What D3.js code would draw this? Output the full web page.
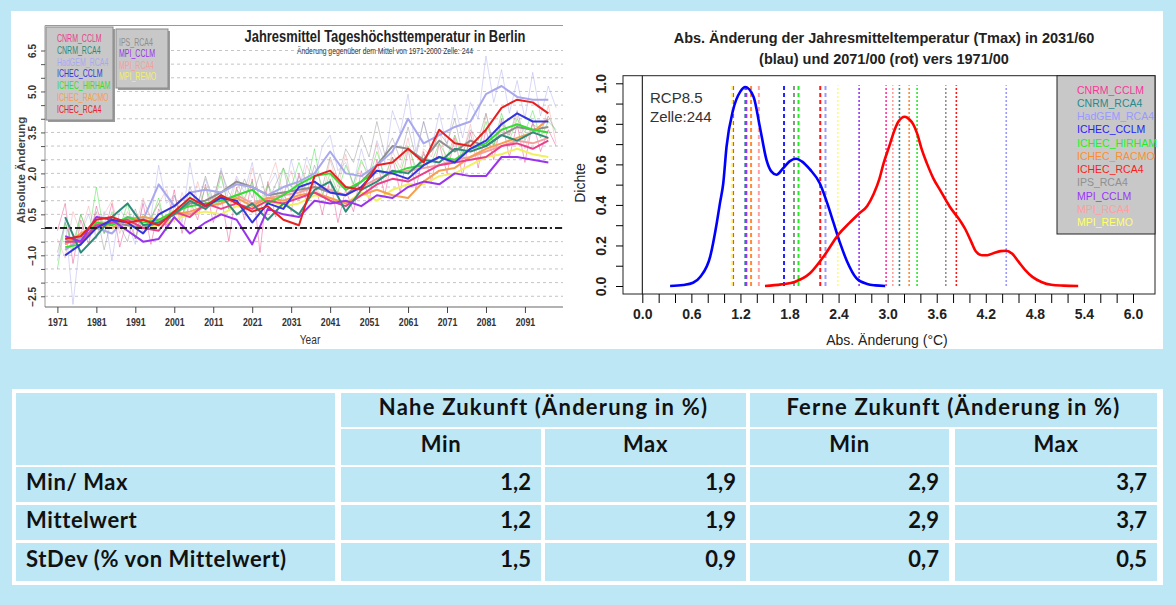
<!DOCTYPE html>
<html>
<head>
<meta charset="utf-8">
<script src="https://cdn.jsdelivr.net/npm/d3@7"></script>
<style>
  body { margin: 0; background: #bee7f5; }
  text { font-family: "Liberation Sans", Arial, sans-serif; }
  .tbl { font-family: Lato, "Open Sans", sans-serif; font-weight: 700; }
</style>
</head>
<body>
<div id="chart"></div>
<script>

// ---- models ----
var modelNames = ["CNRM_CCLM", "CNRM_RCA4", "HadGEM_RCA4", "ICHEC_CCLM", "ICHEC_HIRHAM",
                  "ICHEC_RACMO", "ICHEC_RCA4", "IPS_RCA4", "MPI_CCLM", "MPI_RCA4", "MPI_REMO"];
var leftColors  = ["#e8408a", "#2e8b7a", "#a8a8ee", "#3535e0", "#33dd33",
                   "#f5a050", "#e82020", "#8f8f8f", "#9933ee", "#f4a0a0", "#f0f060"];
var rightColors = ["#ff3399", "#2a8a8a", "#9999ff", "#2222ff", "#22ee22",
                   "#ff8c33", "#ff1a1a", "#909090", "#9933ff", "#ff9f9f", "#ffff66"];

// ---- left chart: smoothed series, years 1973..2097 every 4 years ----
var smoothYears = d3.range(1973, 2098, 4);
var cnrmCclm  = [-0.5,-0.5,0.1,0.2,0.3,0.0,-0.1,0.6,0.4,0.9,0.7,0.9,0.7,1.0,0.9,1.1,1.3,1.0,0.8,1.2,1.6,1.8,1.7,2.0,2.3,2.4,2.5,2.6,3.0,3.1,2.9,3.2];
var cnrmRca4  = [0.4,-0.9,-0.3,0.4,0.9,0.1,0.2,0.5,1.0,0.7,1.2,0.5,0.9,0.3,0.9,0.5,1.4,1.7,0.6,1.4,1.7,2.1,2.0,2.5,2.4,2.9,2.8,3.0,3.4,3.2,3.5,3.3];
var hadgemRca4 = [-0.8,-0.4,0.0,-0.2,0.4,0.3,1.6,0.8,1.3,1.4,1.3,1.6,1.5,1.2,1.5,1.7,2.0,2.8,2.0,1.9,2.3,2.8,4.0,3.1,3.4,3.7,3.9,4.9,5.2,4.8,4.7,4.7];
var ichecCclm = [-1.0,-0.6,0.0,0.3,0.2,-0.2,0.5,0.8,1.3,0.8,1.1,1.0,0.2,0.9,0.7,1.5,1.7,1.3,1.2,1.5,2.1,2.0,1.8,2.3,2.6,2.4,2.9,3.2,3.8,4.2,3.9,3.9];
var ichecHirham = [-0.7,-0.6,0.2,0.1,0.4,0.2,0.3,0.6,0.8,0.9,1.0,1.2,1.4,0.9,1.2,1.6,1.9,2.0,1.4,1.7,2.1,2.0,2.2,2.3,2.6,2.5,2.9,3.1,3.6,3.8,3.6,3.5];
var ichecRacmo = [-0.6,-0.2,0.1,0.0,0.3,0.4,0.3,0.5,0.6,0.8,0.9,1.1,0.8,1.1,1.0,1.2,1.3,1.1,0.9,1.2,1.4,1.2,1.1,1.7,2.1,2.2,2.6,2.9,3.1,3.3,3.5,4.0];
var ichecRca4 = [-0.4,-0.3,0.3,0.4,0.2,0.3,0.1,0.6,1.1,0.8,1.2,0.9,0.6,0.8,0.3,0.1,1.9,2.1,1.5,1.4,2.3,2.4,2.9,2.4,3.6,3.1,3.0,3.6,4.4,4.7,4.6,4.2];
var ipsRca4   = [-0.5,-0.4,0.0,0.2,0.1,0.0,0.2,0.5,0.9,1.0,1.3,1.7,1.5,1.2,1.3,1.4,1.5,1.3,1.2,1.7,2.3,3.0,2.9,2.5,3.2,2.8,3.2,3.0,3.4,3.7,3.6,3.7];
var mpiCclm   = [-0.3,-0.5,0.4,0.3,-0.1,-0.5,-0.4,0.4,-0.2,0.2,0.5,0.3,-0.6,0.7,0.5,0.4,1.0,0.9,1.0,0.8,1.2,1.1,1.5,1.7,1.6,2.0,1.9,1.9,2.6,2.6,2.5,2.4];
var mpiRca4   = [-0.6,-0.3,0.2,0.2,0.1,0.3,0.2,0.6,0.5,0.8,0.9,1.2,0.9,1.1,1.2,1.3,1.5,1.4,1.2,1.5,1.8,2.0,2.1,2.2,2.3,2.5,2.6,2.8,3.0,3.2,3.1,3.3];
var mpiRemo   = [-0.8,-0.4,0.0,0.2,0.1,0.0,0.1,0.3,0.5,0.6,0.5,0.8,0.7,1.0,0.8,0.9,1.2,1.1,0.9,1.3,1.0,1.4,1.6,1.6,1.9,2.0,2.3,2.6,2.7,2.9,2.7,2.6];
var smoothSeries = [cnrmCclm, cnrmRca4, hadgemRca4, ichecCclm, ichecHirham, ichecRacmo,
                    ichecRca4, ipsRca4, mpiCclm, mpiRca4, mpiRemo];
var drawOrder = [10, 9, 7, 2, 5, 4, 0, 1, 8, 3, 6];

// ---- left chart: faint yearly values, 1971..2099 every 2 years ----
var rawYears = d3.range(1971, 2100, 2);
var hadgemRaw = [-1.2,0.3,-2.8,-0.2,0.5, -0.4,0.6,-1.2,0.7,0.2, -0.6,1.0,0.4,2.3,0.9, 1.2,0.2,2.4,0.9,1.8, 0.8,2.2,1.0,1.9,1.3,
                 2.4,0.9,1.5,2.0,1.0, 2.5,1.4,2.6,1.8,3.0, 3.4,2.1,2.4,1.6,2.9, 1.9,3.2,2.4,4.3,3.5, 4.9,2.8,3.9,2.9,4.2,
                 3.0,4.5,3.3,4.6,4.0, 6.3,4.6,5.8,4.2,5.4, 4.0,5.7,4.1,5.2,4.4];
var cnrmCclmRaw = [-0.1,0.9,-1.3,0.3,-0.6, 0.8,-0.2,0.9,-0.7,0.4, -0.4,0.9,-0.6,0.7,0.1, 1.4,-0.2,1.0,0.3,1.6, 0.2,1.2,-0.5,1.5,0.3,
                   1.8,-0.9,1.7,0.4,1.3, 0.6,2.0,0.9,1.7,0.5, 1.8,0.2,1.4,0.6,2.1, 1.0,2.5,1.2,2.6,1.3, 2.9,1.4,2.8,1.7,3.1,
                   2.0,3.3,1.9,3.5,2.2, 3.6,2.5,4.0,2.6,3.8, 2.4,3.9,2.8,3.6,3.0];
var mpiRca4Raw = [-0.4,-1.1,0.6,-0.2,0.8, -0.3,0.5,1.0,-0.2,0.6, 0.0,1.1,0.3,0.9,1.4, 0.2,1.3,0.5,1.7,0.6, 1.1,2.0,0.7,1.8,0.9,
                  2.2,1.0,1.6,2.4,1.2, 2.1,1.0,2.3,1.6,1.1, 2.5,1.5,2.7,1.4,2.4, 2.0,3.1,1.6,2.8,2.2, 3.3,1.9,2.9,2.6,3.6,
                  2.3,3.4,2.7,3.8,2.5, 4.2,2.9,3.6,3.4,4.1, 2.9,3.8,3.3,4.5,3.1];
var ipsRca4Raw = [-0.9,0.2,-0.6,0.5,-0.3, 0.6,-0.8,0.4,0.1,-0.5, 0.7,-0.2,0.4,0.9,0.0, 1.2,0.4,1.5,0.8,1.9, 1.0,2.1,1.3,0.9,1.8,
                  1.1,2.0,0.9,1.6,2.2, 1.0,1.9,1.3,2.3,1.5, 2.6,1.8,2.9,2.4,3.4, 2.6,3.9,2.7,3.3,2.5, 3.7,2.6,3.9,2.8,3.5,
                  3.1,4.0,2.7,3.6,3.2, 4.2,3.0,3.9,3.4,4.3, 3.2,3.8,3.6,4.1,3.5];
var ichecHirhamRaw = [-1.5,0.2,-0.8,0.5,-0.3, 1.5,-0.2,0.6,0.0,0.9, -0.4,0.5,0.3,1.1,-0.1, 0.8,0.4,1.2,0.6,1.5, 0.8,1.9,0.7,1.4,1.1,
                      1.7,0.6,1.6,1.0,2.2, 1.5,2.4,1.6,2.9,1.2, 2.0,1.3,2.3,1.6,2.5, 1.8,2.8,1.9,2.6,2.0, 3.0,2.2,2.7,2.4,3.1,
                      2.6,3.4,2.5,3.2,2.9, 3.9,3.0,4.2,3.2,4.0, 3.5,4.3,3.3,3.9,3.6];
var rawSeries = [[hadgemRaw, 2], [cnrmCclmRaw, 0], [mpiRca4Raw, 9], [ipsRca4Raw, 7], [ichecHirhamRaw, 4]];

var leftYearTicks = d3.range(1971, 2092, 10);
var leftValueTicks = d3.range(-2.5, 6.51, 0.5);
var leftValueLabels = [6.5, 5.0, 3.5, 2.0, 0.5, -1.0, -2.5];

// ---- right chart: kernel densities ----
var blueX = [0.34,0.5,0.62,0.71,0.83,0.91,0.95,0.99,1.03,1.11,1.2,1.26,1.36,1.44,1.52,1.58,1.64,1.72,1.8,1.88,1.95,2.05,2.17,2.26,2.34,2.42,2.5,2.62,2.75,2.85,2.97];
var blueD = [0,0.005,0.016,0.046,0.145,0.31,0.41,0.507,0.687,0.868,0.96,0.982,0.934,0.78,0.62,0.564,0.549,0.58,0.615,0.628,0.615,0.575,0.507,0.41,0.31,0.21,0.125,0.038,0.01,0.003,0];
var redX = [1.5,1.7,1.87,2.05,2.23,2.4,2.53,2.65,2.75,2.83,2.9,2.95,3.02,3.07,3.13,3.21,3.27,3.31,3.36,3.42,3.48,3.56,3.64,3.76,3.89,3.95,4.02,4.08,4.15,4.22,4.3,4.38,4.45,4.52,4.6,4.68,4.77,4.88,5.0,5.15,5.33];
var redD = [0,0.008,0.021,0.0625,0.153,0.255,0.31,0.357,0.395,0.455,0.53,0.605,0.69,0.753,0.81,0.835,0.82,0.8,0.753,0.67,0.605,0.53,0.474,0.391,0.32,0.28,0.22,0.17,0.152,0.152,0.163,0.172,0.174,0.16,0.12,0.08,0.045,0.02,0.006,0.002,0];
// per-model mean change: near future (2031/60) and far future (2071/00)
var nearFuture = [1.11, 1.26, 2.24, 1.733, 1.91, 1.33, 2.176, 1.855, 1.272, 1.425, 1.095];
var farFuture  = [2.981, 3.144, 4.45, null, 3.36, 3.263, 3.84, 3.711, 2.651, 3.063, 2.39];

// ---- table ----
var rowLabels = ["Min/ Max", "Mittelwert", "StDev (% von Mittelwert)"];
var nearMin = [1.2, 1.2, 1.5];
var nearMax = [1.9, 1.9, 0.9];
var farMin  = [2.9, 2.9, 0.7];
var farMax  = [3.7, 3.7, 0.5];

var width = 1176, height = 605;
var svg = d3.select("#chart").append("svg").attr("width", width).attr("height", height);
svg.append("rect").attr("width", width).attr("height", height).attr("fill", "#bee7f5");
svg.append("rect").attr("x", 11).attr("y", 11).attr("width", 1152).attr("height", 338).attr("fill", "#fff");

// condensed text: regular font squeezed horizontally
function narrow(g, x, y, txt, size, sx) {
  return g.append("text")
    .attr("transform", "translate(" + x + "," + y + ") scale(" + sx + ",1)")
    .attr("font-size", size).text(txt);
}

// ================= left chart =================
var xL = d3.scaleLinear().domain([1971, 2100]).range([57.4, 560]);
var yL = d3.scaleLinear().domain([0, 6.5]).range([228, 50.5]);
var gL = svg.append("g");

gL.selectAll("line.grid").data(leftValueTicks).enter().append("line")
    .attr("x1", 45).attr("x2", 563)
    .attr("y1", function(d) { return yL(d); }).attr("y2", function(d) { return yL(d); })
    .attr("stroke", "#c4c4c4").attr("stroke-dasharray", "3,3");

gL.append("path").attr("d", "M45,307V25.5H563").attr("fill", "none").attr("stroke", "#999");
gL.append("line").attr("x1", 45).attr("x2", 563).attr("y1", 307).attr("y2", 307).attr("stroke", "#666");

var lineL = d3.line()
    .x(function(d) { return xL(d[0]); })
    .y(function(d) { return yL(d[1]); });

rawSeries.forEach(function(r) {
  gL.append("path")
    .attr("d", lineL(r[0].map(function(v, i) { return [rawYears[i], v]; })))
    .attr("fill", "none").attr("stroke", leftColors[r[1]])
    .attr("stroke-width", 1).attr("opacity", 0.45);
});

drawOrder.forEach(function(k) {
  gL.append("path")
    .attr("d", lineL(smoothSeries[k].map(function(v, i) { return [smoothYears[i], v]; })))
    .attr("fill", "none").attr("stroke", leftColors[k])
    .attr("stroke-width", 2).attr("stroke-linejoin", "round");
});

gL.append("line").attr("x1", 45).attr("x2", 563).attr("y1", yL(0)).attr("y2", yL(0))
    .attr("stroke", "#222").attr("stroke-width", 2).attr("stroke-dasharray", "7,3,2,3");

var axLx = gL.append("g").attr("transform", "translate(0,307)")
    .call(d3.axisBottom(xL).tickValues(leftYearTicks).tickSize(6).tickPadding(5).tickFormat(d3.format("d")));
axLx.select(".domain").remove();
axLx.selectAll("line").attr("stroke", "#444");
axLx.selectAll("text").attr("transform", "scale(0.8,1)")
    .attr("font-size", 11).attr("font-weight", "bold").attr("fill", "#333");

var axLy = gL.append("g").attr("transform", "translate(45,0)")
    .call(d3.axisLeft(yL).tickValues(leftValueTicks).tickSize(4)
      .tickFormat(function(d) { return leftValueLabels.indexOf(d) >= 0 ? d3.format(".1f")(d) : ""; }));
axLy.select(".domain").remove();
axLy.selectAll("line").attr("stroke", "#555");
axLy.selectAll("text").attr("x", 0).attr("dy", null).attr("text-anchor", "middle")
    .attr("transform", "translate(-9,0) rotate(-90)")
    .attr("font-size", 10).attr("font-weight", "bold").attr("fill", "#333");

narrow(gL, 385, 42, "Jahresmittel Tageshöchsttemperatur in Berlin", 17, 0.76)
    .attr("text-anchor", "middle").attr("font-weight", "bold").attr("fill", "#222");
narrow(gL, 385, 54, "Änderung gegenüber dem Mittel von 1971-2000  Zelle: 244", 8.5, 0.8)
    .attr("text-anchor", "middle").attr("fill", "#333");
narrow(gL, 310, 344, "Year", 12, 0.85).attr("text-anchor", "middle").attr("fill", "#333");
gL.append("text").attr("text-anchor", "middle").attr("transform", "translate(25,170) rotate(-90)")
    .attr("font-size", 11.5).attr("font-weight", "bold").attr("fill", "#444").text("Absolute Änderung");

// legends (two boxes)
var legBoxes = [
  { x: 46, y: 27, w: 67, h: 93, from: 0, to: 7, tx: 57, ty: 42, step: 11.8 },
  { x: 116, y: 29, w: 52, h: 59, from: 7, to: 11, tx: 119, ty: 46, step: 11.4 }
];
legBoxes.forEach(function(b) {
  gL.append("rect").attr("x", b.x + 2).attr("y", b.y + 2).attr("width", b.w).attr("height", b.h).attr("fill", "#9a9a9a");
  gL.append("rect").attr("x", b.x).attr("y", b.y).attr("width", b.w).attr("height", b.h)
      .attr("fill", "#c8c8c8").attr("stroke", "#8a8a8a");
  d3.range(b.from, b.to).forEach(function(k, i) {
    narrow(gL, b.tx, b.ty + i * b.step, modelNames[k], 10, 0.7).attr("fill", leftColors[k]);
  });
});

// ================= right chart =================
var xR = d3.scaleLinear().domain([0, 6]).range([642.3, 1133]);
var yR = d3.scaleLinear().domain([0, 1]).range([286, 83.3]);
var gR = svg.append("g");

gR.append("line").attr("x1", xR(0)).attr("x2", xR(0)).attr("y1", 75.7).attr("y2", 294).attr("stroke", "#000");

function vLines(vals, dash, w) {
  vals.forEach(function(v, k) {
    if (v === null) return;
    gR.append("line").attr("x1", xR(v)).attr("x2", xR(v)).attr("y1", yR(0)).attr("y2", yR(0.99))
      .attr("stroke", rightColors[k]).attr("stroke-width", w).attr("stroke-dasharray", dash);
  });
}
vLines(nearFuture, "4,3", 2);
vLines(farFuture, "2,2", 1.6);

var lineR = d3.line()
    .x(function(d) { return xR(d[0]); })
    .y(function(d) { return yR(d[1]); })
    .curve(d3.curveMonotoneX);
gR.append("path").attr("d", lineR(blueX.map(function(x, i) { return [x, blueD[i]]; })))
    .attr("fill", "none").attr("stroke", "#0000ff").attr("stroke-width", 2.6);
gR.append("path").attr("d", lineR(redX.map(function(x, i) { return [x, redD[i]]; })))
    .attr("fill", "none").attr("stroke", "#ff0000").attr("stroke-width", 2.6);

gR.append("rect").attr("x", 623).attr("y", 75.7).attr("width", 532).attr("height", 218.3)
    .attr("fill", "none").attr("stroke", "#222");

var axRx = gR.append("g").attr("transform", "translate(0,294)")
    .call(d3.axisBottom(xR).tickValues(d3.range(0, 31).map(function(i) { return i * 0.2; }))
      .tickSize(9).tickPadding(6)
      .tickFormat(function(d, i) { return i % 3 === 0 ? d3.format(".1f")(d) : ""; }));
axRx.select(".domain").remove();
axRx.selectAll("text").attr("font-size", 14).attr("font-weight", "bold").attr("fill", "#222");

var axRy = gR.append("g").attr("transform", "translate(623,0)")
    .call(d3.axisLeft(yR).tickValues(d3.range(0, 11).map(function(i) { return i / 10; }))
      .tickSize(7)
      .tickFormat(function(d, i) { return i % 2 === 0 ? d3.format(".1f")(d) : ""; }));
axRy.select(".domain").remove();
axRy.selectAll("text").attr("x", 0).attr("dy", null).attr("text-anchor", "middle")
    .attr("transform", "translate(-17,0) rotate(-90)")
    .attr("font-size", 14).attr("font-weight", "bold").attr("fill", "#222");

gR.append("text").attr("x", 884).attr("y", 43).attr("text-anchor", "middle")
    .attr("font-size", 14.5).attr("font-weight", "bold").attr("fill", "#222")
    .text("Abs. Änderung der Jahresmitteltemperatur (Tmax) in 2031/60");
gR.append("text").attr("x", 884).attr("y", 64).attr("text-anchor", "middle")
    .attr("font-size", 14.5).attr("font-weight", "bold").attr("fill", "#222")
    .text("(blau) und 2071/00 (rot) vers 1971/00");
gR.append("text").attr("x", 887).attr("y", 345).attr("text-anchor", "middle")
    .attr("font-size", 14).attr("fill", "#222").text("Abs. Änderung (°C)");
gR.append("text").attr("text-anchor", "middle").attr("transform", "translate(585,183) rotate(-90)")
    .attr("font-size", 14).attr("fill", "#222").text("Dichte");
gR.append("text").attr("x", 650).attr("y", 103).attr("font-size", 15).attr("fill", "#333").text("RCP8.5");
gR.append("text").attr("x", 650).attr("y", 122).attr("font-size", 15).attr("fill", "#333").text("Zelle:244");

gR.append("rect").attr("x", 1057).attr("y", 75.7).attr("width", 98).attr("height", 158.3)
    .attr("fill", "#c8c8c8").attr("stroke", "#222");
modelNames.forEach(function(n, k) {
  gR.append("text").attr("x", 1077).attr("y", 93.5 + k * 13.25)
      .attr("font-size", 10.5).attr("fill", rightColors[k]).text(n);
});

// ================= table =================
var colX = [16, 341, 545, 750, 955];
var colW = [319, 200, 201, 199, 202];
var rowY = [393, 429, 467, 505, 543];
var rowH = [34, 36, 35, 35, 38];
var cellFill = "#bee7f5";
var gT = svg.append("g");
gT.append("rect").attr("x", 12).attr("y", 389).attr("width", 1151).attr("height", 196).attr("fill", "#fff");

var cells = [];
cells.push({ x: colX[0], y: rowY[0], w: colW[0], h: rowY[1] + rowH[1] - rowY[0] });
cells.push({ x: colX[1], y: rowY[0], w: colX[2] + colW[2] - colX[1], h: rowH[0],
             label: "Nahe Zukunft (Änderung in %)", anchor: "middle", sp: 1.2 });
cells.push({ x: colX[3], y: rowY[0], w: colX[4] + colW[4] - colX[3], h: rowH[0],
             label: "Ferne Zukunft  (Änderung in %)", anchor: "middle", sp: 1.2 });
["Min", "Max", "Min", "Max"].forEach(function(t, j) {
  cells.push({ x: colX[j + 1], y: rowY[1], w: colW[j + 1], h: rowH[1], label: t, anchor: "middle", sp: 0.6 });
});
var fmt = d3.formatLocale({ decimal: ",", thousands: ".", grouping: [3], currency: ["", " €"] }).format(".1f");
rowLabels.forEach(function(lab, i) {
  var r = i + 2;
  cells.push({ x: colX[0], y: rowY[r], w: colW[0], h: rowH[r], label: lab, anchor: "start", sp: 0.6 });
  [nearMin[i], nearMax[i], farMin[i], farMax[i]].forEach(function(v, j) {
    cells.push({ x: colX[j + 1], y: rowY[r], w: colW[j + 1], h: rowH[r], label: fmt(v), anchor: "end", sp: 0 });
  });
});

gT.selectAll("rect.cell").data(cells).enter().append("rect").attr("class", "cell")
    .attr("x", function(d) { return d.x; }).attr("y", function(d) { return d.y; })
    .attr("width", function(d) { return d.w; }).attr("height", function(d) { return d.h; })
    .attr("fill", cellFill);

gT.selectAll("text.cell").data(cells.filter(function(d) { return d.label; })).enter().append("text")
    .attr("class", "tbl")
    .attr("x", function(d) { return d.anchor === "start" ? d.x + 10 : d.anchor === "end" ? d.x + d.w - 10 : d.x + d.w / 2; })
    .attr("y", function(d) { return d.y + d.h / 2 + 5; })
    .attr("text-anchor", function(d) { return d.anchor; })
    .attr("font-size", 22).attr("letter-spacing", function(d) { return d.sp; }).attr("fill", "#111")
    .text(function(d) { return d.label; });

</script>
</body>
</html>
